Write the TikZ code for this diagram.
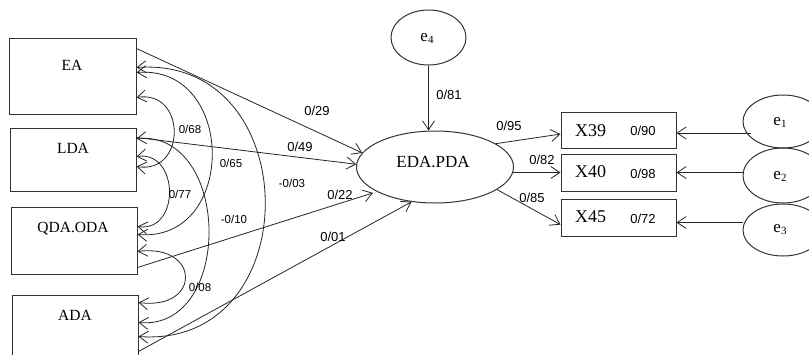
\documentclass[tikz,border=0pt]{standalone}
\usepackage{fontspec}
\setmainfont{Liberation Serif}
\setsansfont{Liberation Sans}
\usetikzlibrary{arrows.meta,shapes.geometric,calc}
\newcommand{\errlbl}[1]{{\fontsize{17}{17}\selectfont e\raisebox{-2pt}{\fontsize{11}{11}\selectfont #1}}}
\begin{document}
\begin{tikzpicture}[x=1pt,y=-1pt,
  ln/.style={line width=0.8pt, draw=black!85},
  box/.style={draw=black!80, line width=1pt, rectangle, inner sep=0pt},
  lat/.style={draw=black!80, line width=1pt, ellipse, inner sep=0pt},
  arr/.style={ln, -{Straight Barb[length=9pt,width=12pt]}},
  cov/.style={ln, {Straight Barb[length=9pt,width=12pt]}-{Straight Barb[length=9pt,width=12pt]}},
  coef/.style={font=\sffamily\fontsize{13}{13}\selectfont, inner sep=0pt},
  rcoef/.style={font=\sffamily\fontsize{11.5}{11.5}\selectfont, inner sep=0pt},
  boxtxt/.style={font=\fontsize{15.5}{15.5}\selectfont, inner sep=0pt},
  xtxt/.style={font=\fontsize{18}{18}\selectfont, inner sep=0pt},
  ltxt/.style={font=\fontsize{17}{17}\selectfont, inner sep=0pt}]
\useasboundingbox (0,0) rectangle (809,354);
\clip (0,0) rectangle (809,354);
\fill[white] (0,0) rectangle (809,354);

% left observed boxes
\node[box, minimum width=127pt, minimum height=76pt] (EA) at (72.5,76) {};
\node[box, minimum width=126pt, minimum height=63pt] (LDA) at (73,159.5) {};
\node[box, minimum width=126pt, minimum height=67pt] (QDA) at (74,240.5) {};
\node[box, minimum width=126pt, minimum height=70pt] (ADA) at (75,330) {};
\node[boxtxt] (tEA) at (72,65) {EA};
\node[boxtxt] (tLDA) at (73,148) {LDA};
\node[boxtxt] (tQDA) at (73,229) {QDA.ODA};
\node[boxtxt] (tADA) at (75,315) {ADA};

% latent
\node[lat, minimum width=157pt, minimum height=72pt] (EDA) at (435,167) {};
\node[ltxt] (tEDA) at (433,162) {EDA.PDA};
\node[lat, minimum width=75pt, minimum height=55pt] (e4) at (428.5,37.5) {};
\node (te4) at (427,38) {\errlbl{4}};

% right indicator boxes
\node[box, minimum width=115pt, minimum height=36pt] (X39) at (618.5,130) {};
\node[box, minimum width=115pt, minimum height=37pt] (X40) at (618.5,172.5) {};
\node[box, minimum width=115pt, minimum height=37pt] (X45) at (618.5,217.5) {};
\node[xtxt] (tX39) at ($(X39.center)+(-28,1)$) {X39};
\node[xtxt] (tX40) at ($(X40.center)+(-28,-1)$) {X40};
\node[xtxt] (tX45) at ($(X45.center)+(-28,-1)$) {X45};
\node[coef] (v39) at ($(X39.center)+(24.5,1)$) {0/90};
\node[coef] (v40) at ($(X40.center)+(24.5,1)$) {0/98};
\node[coef] (v45) at ($(X45.center)+(24.5,1)$) {0/72};

% error ellipses
\node[lat, minimum width=80pt, minimum height=53pt] (e1) at (783,121.5) {};
\node[lat, minimum width=80pt, minimum height=55pt] (e2) at (783,175.5) {};
\node[lat, minimum width=80pt, minimum height=52pt] (e3) at (783,230) {};
\node (te1) at (780,122) {\errlbl{1}};
\node (te2) at (780,176) {\errlbl{2}};
\node (te3) at (780,230) {\errlbl{3}};

% structural paths
\draw[arr] ($(EA.north east)+(0,11)$) -- (EDA.169);
\draw[arr] ($(LDA.north east)+(0,10)$) -- (EDA.178);
\draw[arr, shorten >=4pt] ($(QDA.north east)+(0,61)$) -- (EDA.203);
\draw[arr] ($(ADA.north east)+(0,57)$) -- (EDA.236);
\draw[arr] (e4.south) -- (e4.south |- EDA.north);

\draw[arr] (EDA.21) -- (X39.184);
\draw[arr] (EDA.-4) -- (X40.west);
\draw[arr] (EDA.-20) -- (X45.187);

\coordinate (in39) at ($(X39.east)+(0,3)$);
\coordinate (in45) at ($(X45.east)+(0,5)$);
\draw[arr] ($(e1.west |- in39)+(8,0)$) -- (in39);
\draw[arr] (e2.west |- X40.east) -- (X40.east);
\draw[arr] (e3.west |- in45) -- (in45);

% covariances
\draw[cov] ($(EA.north east)+(0,60)$) .. controls +(50,-8) and +(50,8) .. ($(LDA.north east)+(0,39)$);
\draw[cov] ($(LDA.north east)+(0,29)$) .. controls +(43,-6) and +(43,6) .. ($(QDA.north east)+(0,20)$);
\draw[cov] ($(QDA.north east)+(0,45)$) .. controls +(63,-8) and +(63,8) .. ($(ADA.north east)+(0,8)$);
\draw[cov] ($(EA.north east)+(0,35)$) .. controls +(100,-8) and +(100,8) .. ($(QDA.north east)+(0,28)$);
\draw[cov] ($(LDA.north east)+(0,11)$) .. controls +(95,-8) and +(95,8) .. ($(ADA.north east)+(0,28)$);
\draw[cov] ($(EA.north east)+(0,30)$) .. controls +(170,-12) and +(170,12) .. ($(ADA.north east)+(0,42)$);

% coefficients
\node[coef] (c29) at (317,111) {0/29};
\node[coef] (c49) at (300,147) {0/49};
\node[coef] (c22) at (340,195) {0/22};
\node[coef] (c01) at (333,237) {0/01};
\node[coef] (c81) at (449,95) {0/81};
\node[coef] (c95) at (509,126) {0/95};
\node[coef] (c82) at (542,160) {0/82};
\node[coef] (c85) at (532,198) {0/85};
\node[rcoef] (r68) at (190,129) {0/68};
\node[rcoef] (r65) at (231,163) {0/65};
\node[rcoef] (r03) at (292,183) {-0/03};
\node[rcoef] (r77) at (180,194) {0/77};
\node[rcoef] (r10) at (234,219) {-0/10};
\node[rcoef] (r08) at (200,287) {0/08};
\end{tikzpicture}
\end{document}
